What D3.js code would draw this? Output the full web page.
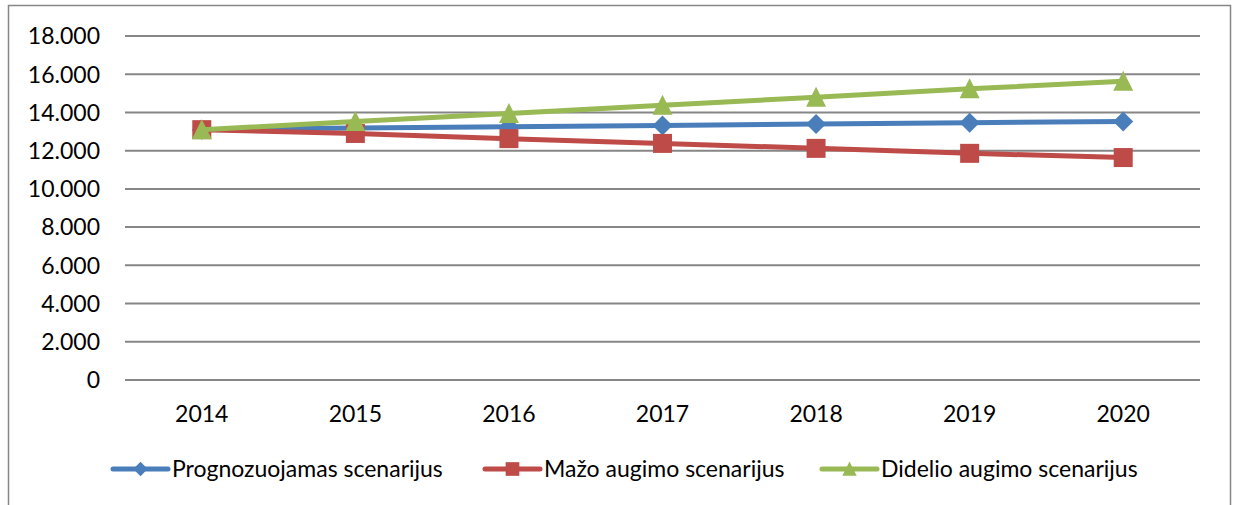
<!DOCTYPE html>
<html>
<head>
<meta charset="utf-8">
<script src="https://cdn.jsdelivr.net/npm/d3@7"></script>
<style>
  body { margin: 0; background: #fff; }
  text { font-family: Lato, "Liberation Sans", sans-serif; fill: #000; }
</style>
</head>
<body>
<div id="chart"></div>
<script>
// data
var years = ['2014', '2015', '2016', '2017', '2018', '2019', '2020'];
var prognozuojamas = [13100, 13180, 13250, 13320, 13390, 13460, 13530];
var mazo = [13100, 12900, 12630, 12380, 12120, 11860, 11640];
var didelio = [13100, 13520, 13950, 14380, 14790, 15240, 15630];
var yTicks = [0, 2000, 4000, 6000, 8000, 10000, 12000, 14000, 16000, 18000];
var seriesNames = ['Prognozuojamas scenarijus', 'Mažo augimo scenarijus', 'Didelio augimo scenarijus'];

var width = 1235;
var height = 505;

var series = [
    { name: seriesNames[0], values: prognozuojamas, color: '#4a7ebb', shape: 'diamond' },
    { name: seriesNames[1], values: mazo, color: '#be4b48', shape: 'square' },
    { name: seriesNames[2], values: didelio, color: '#98b954', shape: 'triangle' }
];

var svg = d3.select('#chart')
    .append('svg')
    .attr('width', width)
    .attr('height', height);

// outer chart border
svg.append('rect')
    .attr('x', 8.5)
    .attr('y', 5.5)
    .attr('width', 1222)
    .attr('height', 510)
    .attr('fill', 'none')
    .attr('stroke', '#868686')
    .attr('stroke-width', 1.5);

var x = d3.scaleBand()
    .domain(years)
    .range([125, 1200]);

var y = d3.scaleLinear()
    .domain([0, 18000])
    .range([380, 36]);

var fmt = d3.formatLocale({ decimal: ',', thousands: '.', grouping: [3], currency: ['', ''] }).format(',d');

function cx(d) {
    return x(d) + x.bandwidth() / 2;
}

// gridlines
svg.append('g')
    .selectAll('line')
    .data(yTicks)
    .enter()
    .append('line')
    .attr('x1', 125)
    .attr('x2', 1200)
    .attr('y1', function(d) { return y(d); })
    .attr('y2', function(d) { return y(d); })
    .attr('stroke', '#868686')
    .attr('stroke-width', 2);

// y tick labels
svg.append('g')
    .selectAll('text')
    .data(yTicks)
    .enter()
    .append('text')
    .attr('x', 100)
    .attr('y', function(d) { return y(d); })
    .attr('dy', '0.36em')
    .attr('text-anchor', 'end')
    .style('font-size', '23px')
    .text(function(d) { return fmt(d); });

// x labels
svg.append('g')
    .selectAll('text')
    .data(years)
    .enter()
    .append('text')
    .attr('x', cx)
    .attr('y', 422)
    .attr('text-anchor', 'middle')
    .style('font-size', '23px')
    .text(function(d) { return d; });

// marker path generator, s = size
function marker(shape, s) {
    var h = s / 2;
    if (shape === 'diamond') {
        return 'M0,' + (-h) + 'L' + h + ',0L0,' + h + 'L' + (-h) + ',0Z';
    }
    if (shape === 'square') {
        return 'M' + (-h) + ',' + (-h) + 'H' + h + 'V' + h + 'H' + (-h) + 'Z';
    }
    return 'M0,' + (-h * 1.05) + 'L' + h + ',' + (h * 0.95) + 'L' + (-h) + ',' + (h * 0.95) + 'Z';
}

var markerSize = { diamond: 20, square: 19, triangle: 20 };

var line = d3.line()
    .x(function(d) { return cx(d.year); })
    .y(function(d) { return y(d.value); });

series.forEach(function(s) {
    var pts = years.map(function(yr, i) {
        return { year: yr, value: s.values[i] };
    });
    var g = svg.append('g');
    g.append('path')
        .datum(pts)
        .attr('d', line)
        .attr('fill', 'none')
        .attr('stroke', s.color)
        .attr('stroke-width', 5)
        .attr('stroke-linejoin', 'round');
    g.selectAll('path.mk')
        .data(pts)
        .enter()
        .append('path')
        .attr('class', 'mk')
        .attr('transform', function(d) { return 'translate(' + cx(d.year) + ',' + y(d.value) + ')'; })
        .attr('d', marker(s.shape, markerSize[s.shape]))
        .attr('fill', s.color);
});

// legend
var legendX = [113, 485, 822];
var legend = svg.selectAll('.legend')
    .data(series)
    .enter()
    .append('g')
    .attr('class', 'legend')
    .attr('transform', function(d, i) { return 'translate(' + legendX[i] + ',469)'; });

legend.append('line')
    .attr('x1', 0)
    .attr('x2', 55)
    .attr('stroke', function(d) { return d.color; })
    .attr('stroke-width', 5)
    .attr('stroke-linecap', 'round');

legend.append('path')
    .attr('transform', 'translate(27.5,0)')
    .attr('d', function(d) { return marker(d.shape, markerSize[d.shape] * 0.72); })
    .attr('fill', function(d) { return d.color; });

legend.append('text')
    .attr('x', 59)
    .attr('y', 8)
    .style('font-size', '23px')
    .text(function(d) { return d.name; });
</script>
</body>
</html>
